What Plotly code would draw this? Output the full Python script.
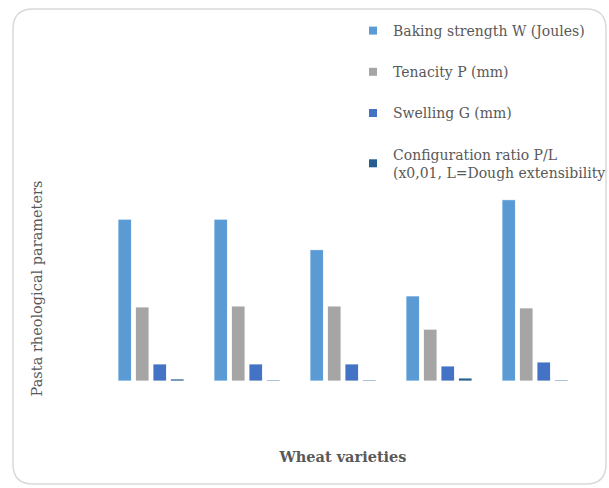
import plotly.graph_objects as go

varieties = ["Variety 1", "Variety 2", "Variety 3", "Variety 4", "Variety 5"]
baking_strength = [175, 175, 142, 92, 196]
tenacity = [80, 81, 81, 56, 79]
swelling = [18.4, 18.4, 18.4, 16.2, 20.5]
config_ratio = [2.2, 1.1, 1.1, 3.2, 1.1]

series_names = [
    "Baking strength W (Joules)",
    "Tenacity P (mm)",
    "Swelling G (mm)",
    "Configuration ratio P/L<br>(x0,01, L=Dough extensibility",
]
series_values = [baking_strength, tenacity, swelling, config_ratio]
colors = ["#5B9BD5", "#A5A5A5", "#4472C4", "#255E91"]

W, H = 609, 488
L, R, T, B = 103, 26, 196, 107
PW, PH = W - L - R, H - T - B

def px2x(px):
    return (px - L) / PW

def py2y(py):
    return (H - B - py) / PH

FONT = "DejaVu Serif"
TXT = "#595959"

fig = go.Figure()
for i, (name, vals, col) in enumerate(zip(series_names, series_values, colors)):
    fig.add_trace(go.Bar(
        x=varieties, y=vals, name=name, marker=dict(color=col, line=dict(color="rgba(255,255,255,0.8)", width=1)),
        showlegend=False,
    ))
    fig.add_trace(go.Scatter(
        x=[None], y=[None], mode="markers", name=name,
        marker=dict(symbol="square", size=8, color=col),
        legendgroup=f"g{i}", showlegend=True,
    ))

# rounded border
x0, x1, y0, y1, r = 13, 606, 9, 484, 20
def P(px, py):
    return f"{px2x(px)},{py2y(py)}"
path = (
    f"M {P(x0 + r, y0)} L {P(x1 - r, y0)} Q {P(x1, y0)} {P(x1, y0 + r)} "
    f"L {P(x1, y1 - r)} Q {P(x1, y1)} {P(x1 - r, y1)} "
    f"L {P(x0 + r, y1)} Q {P(x0, y1)} {P(x0, y1 - r)} "
    f"L {P(x0, y0 + r)} Q {P(x0, y0)} {P(x0 + r, y0)} Z"
)

fig.update_layout(
    width=W, height=H,
    margin=dict(l=L, r=R, t=T, b=B, autoexpand=False),
    paper_bgcolor="white", plot_bgcolor="white",
    barmode="group", bargap=0.27, bargroupgap=0.23,
    font=dict(family=FONT, color=TXT, size=13),
    shapes=[dict(type="path", xref="paper", yref="paper", path=path,
                 line=dict(color="#D9D9D9", width=1.5), fillcolor="rgba(0,0,0,0)", layer="below")],
    legend=dict(
        x=px2x(353), y=py2y(15), xanchor="left", yanchor="top",
        traceorder="grouped", tracegroupgap=20,
        font=dict(family=FONT, size=14, color=TXT),
        bgcolor="rgba(0,0,0,0)",
    ),
    xaxis=dict(showticklabels=False, showgrid=False, zeroline=False, showline=False, ticks="",
               title=dict(text="<b>Wheat varieties</b>", font=dict(family=FONT, size=14.5, color=TXT), standoff=70)),
    yaxis=dict(range=[0, 200], showticklabels=False, showgrid=False, zeroline=False, showline=False, ticks="",
               title=dict(text="Pasta rheological parameters", font=dict(family=FONT, size=14.5, color=TXT), standoff=55)),
)

fig.write_html("out.html")
